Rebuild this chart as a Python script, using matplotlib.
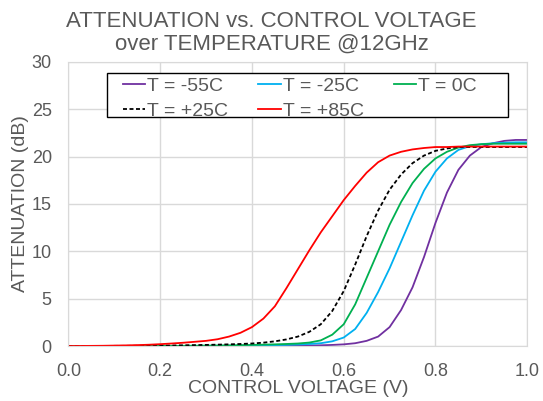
import matplotlib
matplotlib.use("Agg")
import matplotlib.pyplot as plt
from matplotlib.patches import Rectangle

# control voltage (V)
volts = [0.000, 0.025, 0.050, 0.075, 0.100, 0.125, 0.150, 0.175, 0.200, 0.225,
         0.250, 0.275, 0.300, 0.325, 0.350, 0.375, 0.400, 0.425, 0.450, 0.475,
         0.500, 0.525, 0.550, 0.575, 0.600, 0.625, 0.650, 0.675, 0.700, 0.725,
         0.750, 0.775, 0.800, 0.825, 0.850, 0.875, 0.900, 0.925, 0.950, 0.975,
         1.000]

# attenuation (dB) per temperature
att_m55 = [0, 0, 0, 0, 0, 0, 0, 0, 0, 0,
           0, 0, 0, 0, 0, 0, 0, 0.01, 0.02, 0.03,
           0.04, 0.06, 0.08, 0.12, 0.18, 0.30, 0.55, 1.00, 2.00, 3.80,
           6.20, 9.40, 13.00, 16.20, 18.60, 20.10, 21.00, 21.40, 21.65, 21.75,
           21.75]
att_m25 = [0, 0, 0, 0, 0, 0, 0, 0.01, 0.01, 0.01,
           0.01, 0.02, 0.02, 0.03, 0.03, 0.04, 0.05, 0.07, 0.10, 0.13,
           0.17, 0.22, 0.30, 0.50, 0.90, 1.80, 3.50, 5.70, 8.20, 11.00,
           13.80, 16.40, 18.40, 19.80, 20.70, 21.10, 21.30, 21.40, 21.45, 21.50,
           21.50]
att_0 = [0, 0, 0, 0, 0.01, 0.01, 0.01, 0.02, 0.02, 0.02,
         0.03, 0.04, 0.05, 0.06, 0.08, 0.10, 0.12, 0.15, 0.18, 0.22,
         0.27, 0.37, 0.60, 1.20, 2.30, 4.40, 7.20, 10.00, 12.80, 15.20,
         17.20, 18.70, 19.80, 20.50, 20.95, 21.20, 21.30, 21.35, 21.35, 21.35,
         21.35]
att_p25 = [0, 0, 0.01, 0.01, 0.02, 0.02, 0.03, 0.04, 0.05, 0.06,
           0.08, 0.10, 0.12, 0.15, 0.18, 0.22, 0.27, 0.36, 0.50, 0.70,
           1.00, 1.50, 2.30, 3.70, 5.80, 8.60, 11.60, 14.30, 16.50, 18.10,
           19.30, 20.10, 20.60, 20.85, 21.00, 21.00, 21.00, 21.00, 21.00, 21.00,
           21.00]
att_p85 = [0, 0.01, 0.02, 0.03, 0.05, 0.07, 0.10, 0.14, 0.20, 0.27,
           0.35, 0.45, 0.55, 0.72, 1.00, 1.40, 2.00, 2.90, 4.20, 6.10,
           8.10, 10.10, 12.00, 13.70, 15.40, 16.90, 18.30, 19.40, 20.10, 20.50,
           20.75, 20.90, 21.00, 21.00, 21.05, 21.05, 21.05, 21.05, 21.05, 21.05,
           21.05]

labels = ["T = -55C", "T = -25C", "T = 0C", "T = +25C", "T = +85C"]

plt.rcParams['font.family'] = ['Liberation Sans', 'DejaVu Sans']
txt = '#595959'
grid = '#d9d9d9'

fig = plt.figure(figsize=(5.43, 4.01), dpi=100)
ax = fig.add_axes([0.126, 0.137, 0.845, 0.709])

h = []
h += ax.plot(volts, att_m55, color='#7030A0', lw=1.3, label=labels[0])
h += ax.plot(volts, att_m25, color='#00B0F0', lw=1.3, label=labels[1])
h += ax.plot(volts, att_0, color='#00B050', lw=1.3, label=labels[2])
h += ax.plot(volts, att_p25, color='black', lw=1.3, ls=(0, (2.2, 1.4)), label=labels[3])
h += ax.plot(volts, att_p85, color='#FF0000', lw=1.3, label=labels[4])

ax.set_xlim(0, 1.0)
ax.set_ylim(0, 30)
ax.set_xticks([0.0, 0.2, 0.4, 0.6, 0.8, 1.0])
ax.set_xticklabels(["0.0", "0.2", "0.4", "0.6", "0.8", "1.0"])
ax.set_yticks([0, 5, 10, 15, 20, 25, 30])
ax.grid(True, color=grid, lw=1.0)
ax.set_axisbelow(True)
for s in ax.spines.values():
    s.set_color(grid)
ax.tick_params(length=0, labelsize=13, colors=txt)
ax.tick_params(axis='y', pad=12)
ax.tick_params(axis='x', pad=12.5)

ax.set_xlabel("CONTROL VOLTAGE (V)", fontsize=14, color=txt, labelpad=0)
ax.set_ylabel("ATTENUATION (dB)", fontsize=14, color=txt)
ax.yaxis.set_label_coords(-0.085, 0.5)
fig.suptitle("ATTENUATION vs. CONTROL VOLTAGE\nover TEMPERATURE @12GHz",
             fontsize=16, color=txt, y=0.973, linespacing=1.1)

# legend box drawn separately so it can be wider than its entries
ax.add_patch(Rectangle((0.084, 0.8055), 0.8745, 0.1545, transform=ax.transAxes,
                       facecolor='white', edgecolor='black', lw=1.0, zorder=4,
                       clip_on=False))

# row-wise legend order (matplotlib fills columns first)
order = [0, 3, 1, 4, 2]
leg = ax.legend([h[i] for i in order], [labels[i] for i in order],
                loc='upper left', bbox_to_anchor=(0.119, 0.946),
                ncol=3, fontsize=14, frameon=False,
                handlelength=1.15, handletextpad=0.1, columnspacing=1.55,
                borderpad=0, labelspacing=0.38, borderaxespad=0)
leg.set_zorder(5)
for t in leg.get_texts():
    t.set_color(txt)

fig.savefig("out.png", dpi=100)
